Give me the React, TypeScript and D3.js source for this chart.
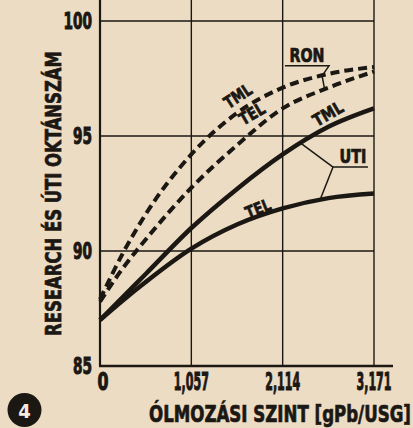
import React, { useLayoutEffect, useRef, useState } from "react";
import * as d3 from "d3";

// lead level (g Pb / US gallon) and octane numbers
const leadLevels = [0, 0.264, 0.529, 1.057, 1.586, 2.114, 2.643, 3.171];
const ronTml = [87.9, 89.9, 91.6, 94.2, 96.0, 97.1, 97.7, 98.0];
const ronTel = [87.8, 89.25, 90.5, 92.75, 94.6, 96.2, 97.1, 97.8];
const utiTml = [87.0, 88.0, 89.0, 91.0, 92.7, 94.2, 95.4, 96.2];
const utiTel = [87.0, 87.85, 88.65, 90.1, 91.15, 91.85, 92.3, 92.5];

const xTicks = [0, 1.057, 2.114, 3.171];
const xTickLabels = ["0", "1,057", "2,114", "3,171"];
const yTicks = [85, 90, 95, 100];

const ink = "#1b1713";
const paper = "#ecdcc3";
const font = "'Liberation Sans Narrow', 'DejaVu Sans Condensed', 'DejaVu Sans', sans-serif";

// text squeezed horizontally to a given width (old stencil lettering is very narrow)
function FitText({ x, y, width, rotate = 0, anchor = "middle", size, fill = ink, baseline, heavy = 0.7, children }: any) {
  const ref = useRef<SVGTextElement>(null);
  const [k, setK] = useState(1);
  useLayoutEffect(() => {
    const w = ref.current ? ref.current.getComputedTextLength() : 0;
    if (w > 0) setK(width / w);
  }, [width, children]);
  return (
    <g transform={`translate(${x},${y}) rotate(${rotate}) scale(${k},1)`}>
      <text
        ref={ref}
        textAnchor={anchor}
        fontSize={size}
        fill={fill}
        stroke={fill}
        strokeWidth={heavy}
        dominantBaseline={baseline}
      >
        {children}
      </text>
    </g>
  );
}

export default function App() {
  const W = 413;
  const H = 428;

  //scales
  const x = d3.scaleLinear().domain([0, 3.171]).range([100, 374]);
  const y = d3.scaleLinear().domain([85, 100]).range([366, 21]);

  const makeLine = d3
    .line<number>()
    .x((_, i) => x(leadLevels[i]))
    .y((d) => y(d))
    .curve(d3.curveMonotoneX);

  // value of a curve at a given lead level (for the leader lines)
  const at = (vals: number[], lv: number) =>
    d3.scaleLinear().domain(leadLevels).range(vals)(lv);

  const series = [
    { vals: ronTml, dashed: true },
    { vals: ronTel, dashed: true },
    { vals: utiTml, dashed: false },
    { vals: utiTel, dashed: false },
  ];

  const [x0, x1] = x.range();
  const [yBot, yTop] = y.range();

  // leader for RON
  const ronLeader = [
    [x(2.14), y(98.05)],
    [x(2.65), y(98.05)],
    [x(2.57), y(at(ronTml, 2.57))],
    [x(2.6), y(at(ronTel, 2.6))],
  ];
  // leader for UTI
  const utiJoint: [number, number] = [x(2.697), y(93.65)];

  return (
    <svg
      width={W}
      height={H}
      style={{ position: "absolute", left: 0, top: 0, background: paper }}
      fontFamily={font}
      fontWeight="bold"
    >
      <rect width={W} height={H} fill={paper} />

      {/* grid */}
      {yTicks.slice(1).map((t) => (
        <line key={"h" + t} x1={x0} x2={x1} y1={y(t)} y2={y(t)} stroke={ink} strokeWidth={1.4} />
      ))}
      {xTicks.slice(1).map((t) => (
        <line key={"v" + t} x1={x(t)} x2={x(t)} y1={0} y2={yBot} stroke={ink} strokeWidth={1.4} />
      ))}

      {/* axes */}
      <line x1={x0} x2={x0} y1={0} y2={yBot} stroke={ink} strokeWidth={2.2} />
      <line x1={x0 - 1} x2={393} y1={yBot} y2={yBot} stroke={ink} strokeWidth={2.4} />

      {/* tick labels */}
      {yTicks.map((t) => (
        <FitText
          key={"yl" + t}
          x={92}
          y={y(t) + 8}
          anchor="end"
          size={23}
          width={String(t).length * 9.5}
          heavy={1}
        >
          {t}
        </FitText>
      ))}
      {xTicks.map((t, i) => (
        <FitText
          key={"xl" + t}
          x={x(t) + (i === 0 ? 3 : 0)}
          y={390}
          size={24}
          width={i === 0 ? 11 : 35}
          heavy={1}
        >
          {xTickLabels[i]}
        </FitText>
      ))}

      {/* curves */}
      {series.map((s, i) => (
        <path
          key={"s" + i}
          d={makeLine(s.vals) ?? ""}
          fill="none"
          stroke={ink}
          strokeWidth={s.dashed ? 4 : 4.5}
          strokeDasharray={s.dashed ? "9 5" : undefined}
        />
      ))}

      {/* curve labels */}
      <FitText x={x(1.597)} y={y(96.74)} rotate={-33} size={17} width={30} baseline="central">TML</FitText>
      <FitText x={x(1.759)} y={y(95.96)} rotate={-30} size={17} width={27} baseline="central">TEL</FitText>
      <FitText x={x(2.639)} y={y(95.96)} rotate={-30} size={17} width={32} baseline="central">TML</FitText>
      <FitText x={x(1.829)} y={y(91.84)} rotate={-22} size={17} width={26} baseline="central">TEL</FitText>

      {/* RON annotation */}
      <FitText x={x(2.396)} y={y(98.52)} size={19} width={35} baseline="central">RON</FitText>
      <polyline points={ronLeader.map((p) => p.join(",")).join(" ")} fill="none" stroke={ink} strokeWidth={1.5} />

      {/* UTI annotation */}
      <FitText x={x(2.928)} y={y(94.09)} size={19} width={27} baseline="central">UTI</FitText>
      <line x1={utiJoint[0]} y1={utiJoint[1]} x2={x(3.101)} y2={utiJoint[1]} stroke={ink} strokeWidth={1.5} />
      <line x1={utiJoint[0]} y1={utiJoint[1]} x2={x(2.326)} y2={y(at(utiTml, 2.326))} stroke={ink} strokeWidth={1.5} />
      <line x1={utiJoint[0]} y1={utiJoint[1]} x2={x(2.546)} y2={y(at(utiTel, 2.546))} stroke={ink} strokeWidth={1.5} />

      {/* axis titles */}
      <FitText x={61} y={(yTop + yBot) / 2} rotate={-90} size={22} width={285}>
        RESEARCH ÉS ÚTI OKTÁNSZÁM
      </FitText>
      <FitText x={149} y={422} anchor="start" size={23} width={262}>
        ÓLMOZÁSI SZINT [gPb/USG]
      </FitText>

      {/* figure number */}
      <circle cx={24.5} cy={410} r={17} fill={ink} />
      <text x={24.5} y={411} textAnchor="middle" dominantBaseline="central" fontSize={20} fill="#f4ece0">4</text>
    </svg>
  );
}
